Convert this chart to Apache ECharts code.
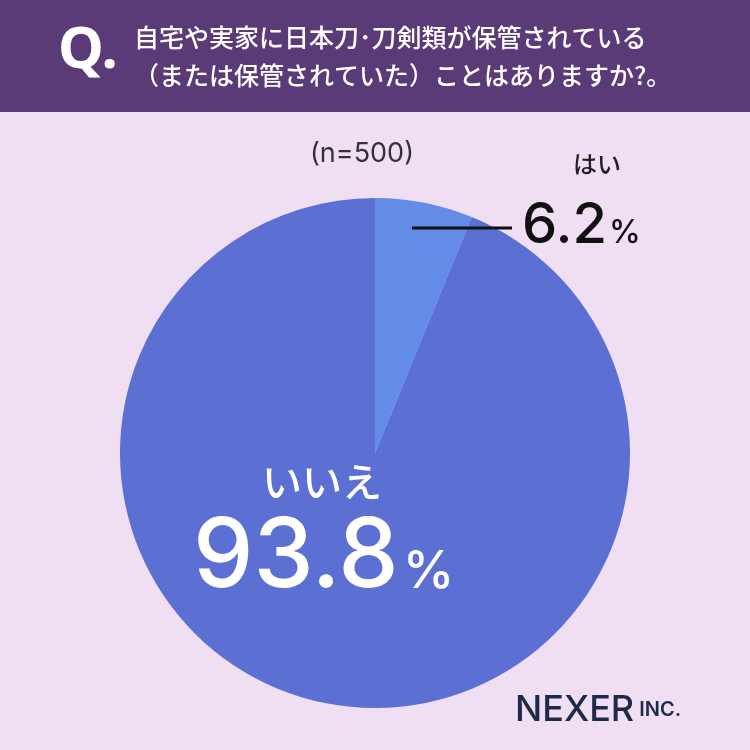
<!DOCTYPE html>
<html><head><meta charset="utf-8">
<script src="https://cdn.jsdelivr.net/npm/echarts@6/dist/echarts.min.js"></script>
<style>html,body{margin:0;padding:0;background:#f0def2}#c{width:750px;height:750px}</style>
</head><body><div id="c"></div>
<script>
var categories = ['はい', 'いいえ'];
var values = [6.2, 93.8];
var sampleSize = 500;
var font = '"Noto Sans CJK JP", "Noto Sans", sans-serif';

var chart = echarts.init(document.getElementById('c'));
chart.setOption({
    backgroundColor: '#f0def2',
    animation: false,
    series: [{
        type: 'pie',
        center: [375, 453],
        radius: 255,
        startAngle: 90,
        clockwise: true,
        silent: true,
        label: {show: false},
        labelLine: {show: false},
        data: [
            {name: categories[0], value: values[0], itemStyle: {color: '#628ce6'}},
            {name: categories[1], value: values[1], itemStyle: {color: '#5c70d3'}}
        ]
    }],
    graphic: [
        {type: 'rect', z: 10, shape: {x: 0, y: 0, width: 750, height: 112}, style: {fill: '#5b3a78'}},
        {type: 'text', z: 10, left: 58, top: 22, style: {text: 'Q.', fill: '#fff', font: 'bold 58px "Noto Sans", sans-serif'}},
        {type: 'text', z: 10, left: 134, top: 18, style: {text: '自宅や実家に日本刀･刀剣類が保管されている\n（または保管されていた）ことはありますか?。', fill: '#fff', font: '500 25px ' + font, lineHeight: 38}},
        {type: 'text', z: 10, left: 310, top: 140, style: {text: '(n=' + sampleSize + ')', fill: '#333', font: '27px Inter, sans-serif'}},
        {type: 'text', z: 10, left: 573, top: 152, style: {text: categories[0], fill: '#222', font: '500 24px ' + font}},
        {type: 'line', z: 10, shape: {x1: 412, y1: 228, x2: 512, y2: 228}, style: {stroke: '#111', lineWidth: 3}},
        {type: 'text', z: 10, left: 522, top: 198, style: {text: '{n|' + values[0] + '}{p|%}', rich: {n: {font: '500 56px Inter, sans-serif', fill: '#111'}, p: {font: '500 32px Inter, sans-serif', fill: '#111', padding: [14, 0, 0, 2]}}}},
        {type: 'text', z: 10, left: 262, top: 462, style: {text: categories[1], fill: '#fff', font: '500 40px ' + font}},
        {type: 'text', z: 10, left: 193, top: 510, style: {text: '{n|' + values[1] + '}{p|%}', rich: {n: {font: '500 96px Inter, sans-serif', fill: '#fff'}, p: {font: '500 52px Inter, sans-serif', fill: '#fff', padding: [28, 0, 0, 4]}}}},
        {type: 'text', z: 10, left: 515, top: 692, style: {text: '{a|NEXER}{b| INC.}', rich: {a: {font: '500 36px Inter, sans-serif', fill: '#1f2a4a'}, b: {font: '600 20px Inter, sans-serif', fill: '#1f2a4a'}}}}
    ]
});
</script></body></html>
